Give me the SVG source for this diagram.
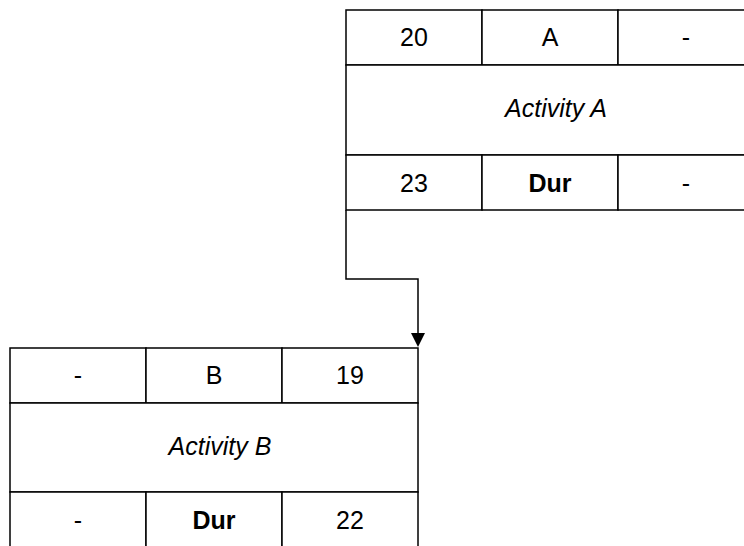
<svg xmlns="http://www.w3.org/2000/svg" width="744" height="546" viewBox="0 0 744 546">
<style>
.cell{fill:#ffffff;stroke:#000000;stroke-width:1.5}
.t{font-family:"Liberation Sans",Arial,Helvetica,sans-serif;font-size:25px;fill:#000000;text-anchor:middle}
.i{font-style:italic}
.b{font-weight:bold}
.edge{fill:none;stroke:#000000;stroke-width:1.5}
</style>
<rect width="744" height="546" fill="#ffffff"/>
<g id="activityA">
<rect class="cell" x="346" y="10" width="136" height="55"/>
<rect class="cell" x="482" y="10" width="136" height="55"/>
<rect class="cell" x="618" y="10" width="136" height="55"/>
<rect class="cell" x="346" y="65" width="408" height="90"/>
<rect class="cell" x="346" y="155" width="136" height="55"/>
<rect class="cell" x="482" y="155" width="136" height="55"/>
<rect class="cell" x="618" y="155" width="136" height="55"/>
<text class="t" x="414" y="46">20</text>
<text class="t" x="550" y="46">A</text>
<text class="t" x="686" y="46">-</text>
<text class="t i" x="556" y="117">Activity A</text>
<text class="t" x="414" y="192">23</text>
<text class="t b" x="550" y="192">Dur</text>
<text class="t" x="686" y="192">-</text>
</g>
<g id="activityB">
<rect class="cell" x="10" y="348" width="136" height="55"/>
<rect class="cell" x="146" y="348" width="136" height="55"/>
<rect class="cell" x="282" y="348" width="136" height="55"/>
<rect class="cell" x="10" y="403" width="408" height="89"/>
<rect class="cell" x="10" y="492" width="136" height="56"/>
<rect class="cell" x="146" y="492" width="136" height="56"/>
<rect class="cell" x="282" y="492" width="136" height="56"/>
<text class="t" x="78" y="384">-</text>
<text class="t" x="214" y="384">B</text>
<text class="t" x="350" y="384">19</text>
<text class="t i" x="220" y="455">Activity B</text>
<text class="t" x="78" y="529">-</text>
<text class="t b" x="214" y="529">Dur</text>
<text class="t" x="350" y="529">22</text>
</g>
<g id="connectors">
<path class="edge" d="M346,210 L346,279 L418,279 L418,334"/>
<path d="M411,333 L425,333 L418,347 Z" fill="#000000"/>
</g>
</svg>
